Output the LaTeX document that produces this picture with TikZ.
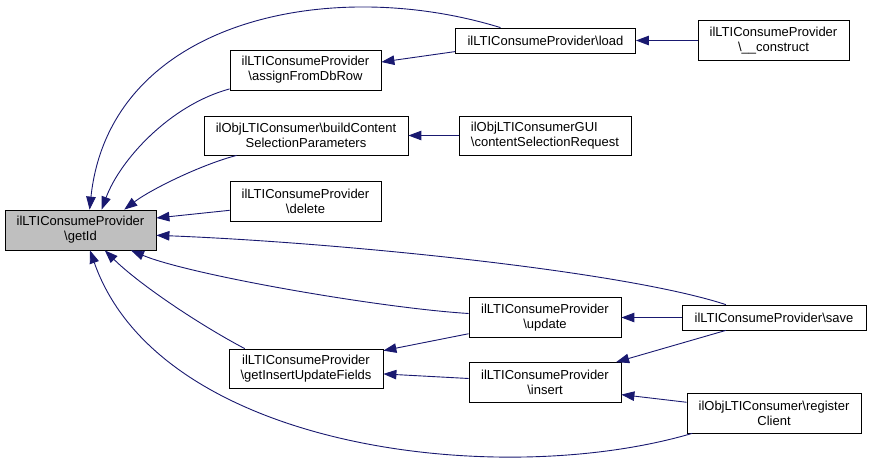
\documentclass[tikz,border=0pt]{standalone}
\usepackage{fontspec}
\setmainfont{Liberation Sans}
\usepackage{tikz}
\usetikzlibrary{arrows.meta}

\definecolor{edgeblue}{HTML}{191970}
\definecolor{cellgray}{HTML}{BFBFBF}

\begin{document}
\begin{tikzpicture}[x=1pt, y=-1pt,
    fn/.style={draw, fill=white, line width=0.8pt, align=center, inner xsep=6pt, inner ysep=2pt,
        font=\fontsize{13}{15}\selectfont, minimum height=40},
    call/.style={draw=edgeblue, line width=0.9pt, -{Triangle[length=13pt, width=9.5pt]}, fill=none},
    ]
    \useasboundingbox (0,0) rectangle (871,464);

    \node[fn, fill=cellgray, minimum width=151] (getId) at (80.5,230) {ilLTIConsumeProvider\\\textbackslash getId};
    \node[fn, minimum width=151] (assign) at (305.5,70) {ilLTIConsumeProvider\\\textbackslash assignFromDbRow};
    \node[fn, minimum width=204, minimum height=39] (build) at (306,135.5) {ilObjLTIConsumer\textbackslash buildContent\\SelectionParameters};
    \node[fn, minimum width=151] (delete) at (305.5,201) {ilLTIConsumeProvider\\\textbackslash delete};
    \node[fn, minimum width=154, minimum height=39] (fields) at (306,368.5) {ilLTIConsumeProvider\\\textbackslash getInsertUpdateFields};
    \node[fn, minimum width=180, minimum height=25] (load) at (545.5,40.5) {ilLTIConsumeProvider\textbackslash load};
    \node[fn, align=left, minimum width=172, minimum height=39] (request) at (545,135.5) {ilObjLTIConsumerGUI\\\textbackslash contentSelectionRequest};
    \node[fn, minimum width=152] (update) at (545,317.5) {ilLTIConsumeProvider\\\textbackslash update};
    \node[fn, minimum width=152] (insert) at (545,382.5) {ilLTIConsumeProvider\\\textbackslash insert};
    \node[fn, minimum width=151] (construct) at (773.5,40.5) {ilLTIConsumeProvider\\\textbackslash\_\_construct};
    \node[fn, minimum width=184, minimum height=25] (save) at (774,317.5) {ilLTIConsumeProvider\textbackslash save};
    \node[fn, minimum width=174] (register) at (774,413) {ilObjLTIConsumer\textbackslash register\\Client};

    \draw[call] (load.164) .. controls (330,-25) and (110,20) .. (getId.66);
    \draw[call] (assign.194) .. controls (170,105) and (120,160) .. (getId.44);
    \draw[call] (build.196) .. controls (200,165) and (150,190) .. (getId.25);
    \draw[call] (delete.187) -- (getId.9);
    \draw[call] (save.165) .. controls (620,270) and (330,242) .. (getId.-4);
    \draw[call] (update.177) .. controls (380,308) and (190,275) .. (getId.-22);
    \draw[call] (fields.162) .. controls (200,325) and (140,285) .. (getId.-40);
    \draw[call] (register.194) .. controls (500,490) and (160,450) .. (getId.-65);

    \draw[call] (load.187) -- (assign.6);
    \draw[call] (construct) -- (load);
    \draw[call] (request) -- (build);
    \draw[call] (save) -- (update);
    \draw[call] (save.195) -- (insert.16);
    \draw[call] (register.173) -- (insert.-9);
    \draw[call] (update.192) -- (fields.13);
    \draw[call] (insert.177) -- (fields.-4);
\end{tikzpicture}
\end{document}
